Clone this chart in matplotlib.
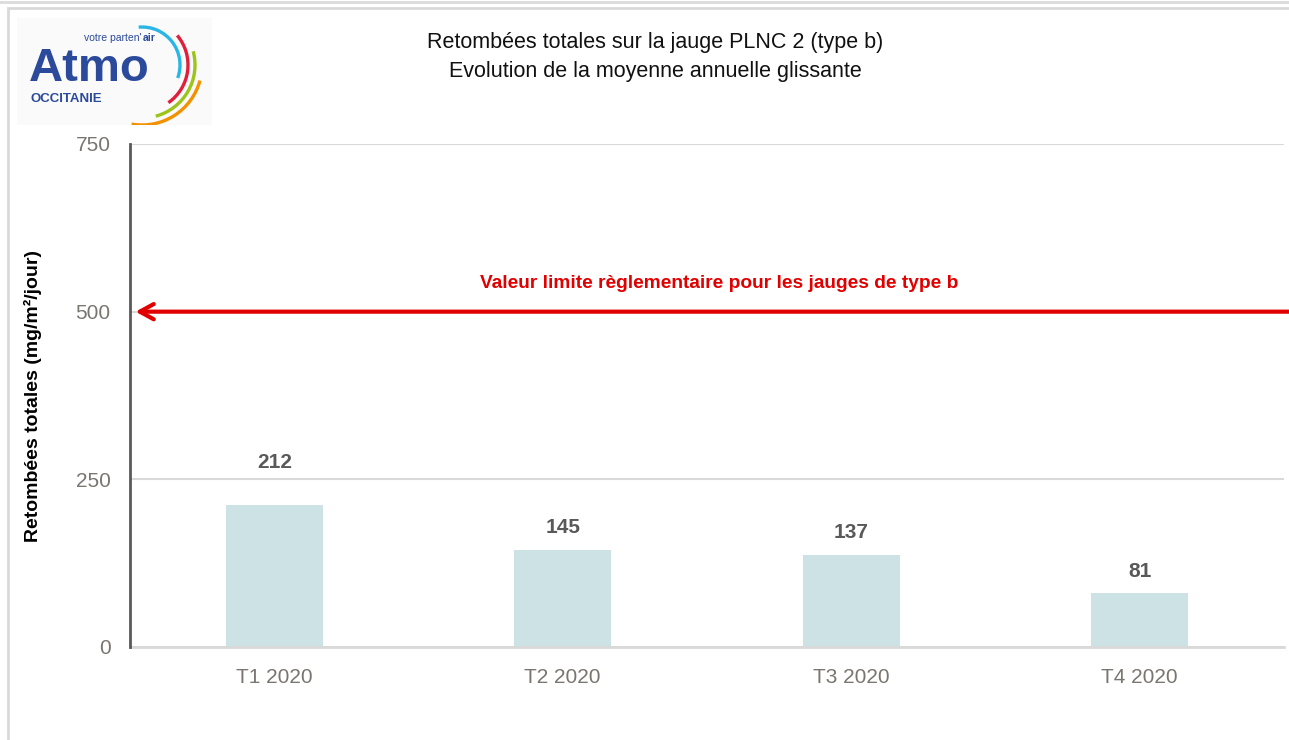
import numpy as np
import matplotlib.pyplot as plt
from matplotlib.patches import Rectangle, Arc

categories = ["T1 2020", "T2 2020", "T3 2020", "T4 2020"]
values = [212, 145, 137, 81]
limit_value = 500
y_ticks = [0, 250, 500, 750]

title = "Retombées totales sur la jauge PLNC 2 (type b)\nEvolution de la moyenne annuelle glissante"
ylabel = "Retombées totales (mg/m²/jour)"
limit_label = "Valeur limite règlementaire pour les jauges de type b"

plt.rcParams["font.family"] = ["Liberation Sans", "DejaVu Sans"]

fig = plt.figure(figsize=(12.89, 7.40), dpi=100)
W, H = 1289, 740

# outer frames of the screenshot
fig.add_artist(plt.Line2D([0, 1], [1 - 1.5 / H, 1 - 1.5 / H], color="#dcdcdc", lw=2))
fig.add_artist(Rectangle((8 / W, -0.01), 1.0, 1 - 8 / H + 0.01, fill=False,
                         edgecolor="#d9d9d9", lw=2, transform=fig.transFigure))

ax = fig.add_axes([130 / W, 1 - 647 / H, 1154 / W, (647 - 144) / H])
x = np.arange(len(categories))
ax.bar(x, values, width=0.335, color="#cde2e4", zorder=2)

ax.set_xlim(-0.5, len(categories) - 0.5)
ax.set_ylim(0, 750)
ax.set_yticks(y_ticks)
ax.set_xticks(x)
ax.set_xticklabels(categories)
ax.tick_params(axis="both", length=0, labelsize=15, labelcolor="#7a756f")
ax.tick_params(axis="y", pad=14)
ax.tick_params(axis="x", pad=15)
ax.grid(axis="y", color="#d9d9d9", lw=1.5, zorder=0)
for s in ["top", "right"]:
    ax.spines[s].set_visible(False)
ax.spines["bottom"].set_color("#d9d9d9")
ax.spines["bottom"].set_linewidth(2)
ax.spines["left"].set_color("#595959")
ax.spines["left"].set_linewidth(2)
ax.spines["left"].set_zorder(3)

# value labels (first one sits above the 250 gridline)
offsets = [42, 22, 23, 21]
for xi, v, off in zip(x, values, offsets):
    ax.annotate(str(v), (xi, v), xytext=(0, off), textcoords="offset pixels",
                ha="center", va="center", fontsize=15, fontweight="bold", color="#595959")

ax.set_ylabel(ylabel, fontsize=14, fontweight="bold", color="black", labelpad=24)

# regulatory limit arrow
ax.annotate("", xy=(-0.5, limit_value), xycoords="data",
            xytext=(1.005, limit_value), textcoords=("axes fraction", "data"),
            arrowprops=dict(arrowstyle="->,head_length=1.0,head_width=0.55",
                            color="#e00000", lw=3, shrinkA=0, shrinkB=4),
            annotation_clip=False)
ax.text(1.541, limit_value + 42, limit_label, ha="center", va="center",
        fontsize=13.8, fontweight="bold", color="#e00000")

fig.text(655 / W, 1 - 57 / H, title, ha="center", va="center", fontsize=15.5,
         color="#111111", linespacing=1.45)

# logo
lax = fig.add_axes([17 / W, 1 - 125 / H, 195 / W, 107 / H])
lax.set_xlim(0, 195)
lax.set_ylim(0, 107)
lax.axis("off")
lax.add_patch(Rectangle((0, 0), 195, 107, color="#fafafa"))
lax.text(12, 44, "Atmo", fontsize=34, fontweight="bold", color="#2b4a9b", va="baseline")
lax.text(67, 84, "votre parten'", fontsize=7.5, color="#2b4a9b", va="baseline")
lax.text(126, 84, "air", fontsize=7.5, color="#2b4a9b", fontweight="bold", va="baseline")
lax.text(13, 23, "OCCITANIE", fontsize=9.5, fontweight="bold", color="#2b4a9b", va="baseline")
arcs = [("#29b6e6", 38, -20, 95), ("#e01f3d", 46, -55, 40),
        ("#9dc41a", 53, -75, 15), ("#f39200", 60, -100, -15)]
for col, r, t1, t2 in arcs:
    lax.add_patch(Arc((125, 60), 2 * r, 2 * r, theta1=t1, theta2=t2, color=col, lw=2.4))

fig.savefig("out.png", dpi=100)
